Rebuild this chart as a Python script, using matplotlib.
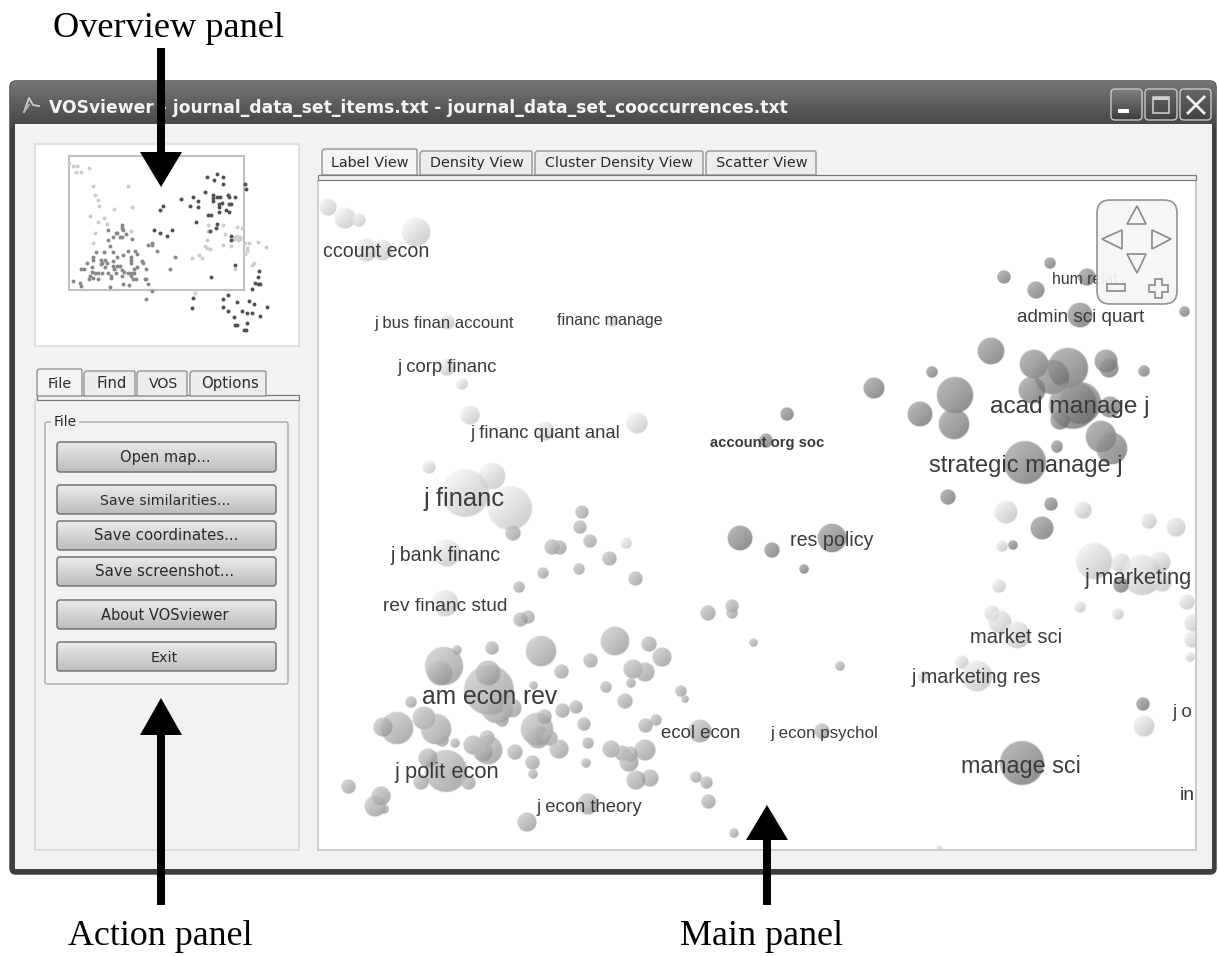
import numpy as np
import matplotlib
matplotlib.use('Agg')
import matplotlib.pyplot as plt
from matplotlib.patches import Rectangle, FancyBboxPatch, Polygon

# bubbles in the main panel, one list per cluster: (x, y, radius)
finance_bubbles = [(328, 207, 9), (345, 218, 11), (359, 220, 7), (416, 232, 15), (366, 250, 12), (382, 250, 11),
                   (447, 322, 8), (612, 320, 7), (447, 367, 9), (462, 384, 6), (470, 415, 10), (545, 431, 10),
                   (637, 423, 11), (429, 467, 7), (492, 476, 14), (465, 493, 25), (510, 508, 23), (447, 553, 14),
                   (445, 603, 14), (626, 543, 6)]
econ_bubbles = [(513, 533, 8), (582, 512, 7), (580, 527, 7), (590, 541, 7), (552, 547, 8), (559, 548, 7.5),
                (609, 559, 7.5), (579, 569, 6), (543, 573, 6), (635, 579, 7.5), (519, 587, 6), (528, 617, 7),
                (520, 620, 7.5), (708, 613, 8), (732, 606, 7), (732, 613, 6), (753, 643, 4.5), (444, 666, 20),
                (440, 673, 13), (457, 650, 5), (492, 648, 7), (541, 651, 16), (561, 672, 7.5), (590, 661, 7.5),
                (615, 641, 15), (649, 644, 8), (662, 657, 10), (633, 669, 10), (645, 672, 10), (631, 683, 5),
                (606, 687, 6), (625, 701, 8), (681, 691, 6), (685, 699, 4), (489, 690, 26), (488, 673, 13),
                (497, 707, 17), (512, 708, 10), (533, 686, 4.5), (411, 702, 6), (502, 720, 7), (562, 711, 7.5),
                (576, 707, 7), (537, 729, 17), (544, 717, 7.5), (538, 737, 12), (550, 738, 8), (559, 749, 10),
                (584, 724, 7), (588, 743, 6), (586, 763, 5), (645, 726, 7.5), (656, 720, 6), (645, 750, 11),
                (611, 749, 9), (622, 753, 8), (630, 754, 8), (629, 762, 10), (650, 778, 9), (636, 780, 10),
                (696, 777, 6), (706, 783, 6.5), (708, 802, 7.5), (734, 833, 5), (700, 731, 12), (527, 822, 10),
                (588, 804, 11), (397, 728, 17), (383, 727, 10), (424, 718, 12), (436, 729, 16), (442, 740, 7),
                (455, 743, 5), (473, 745, 10), (487, 738, 8), (488, 750, 15), (483, 752, 10), (515, 752, 8),
                (532, 763, 7.5), (533, 774, 5), (446, 771, 22), (428, 758, 10), (421, 782, 8), (468, 783, 7.5),
                (348, 787, 7.5), (381, 796, 10), (375, 806, 11), (384, 809, 5), (840, 666, 5), (822, 731, 8)]
manage_bubbles = [(787, 414, 7), (766, 441, 7), (874, 388, 11), (832, 538, 15), (772, 550, 8), (740, 538, 13),
                  (804, 569, 5), (1004, 277, 7), (1050, 263, 6), (1036, 290, 9), (1087, 277, 9), (1080, 315, 13),
                  (1184, 312, 5.5), (991, 351, 14), (1034, 364, 15), (1068, 368, 21), (1052, 377, 18),
                  (1106, 361, 12), (1109, 368, 10), (1144, 371, 6), (932, 372, 6), (955, 395, 19), (920, 414, 13),
                  (954, 424, 16), (1032, 390, 14), (1073, 405, 25), (1080, 403, 22), (1060, 420, 10),
                  (1110, 407, 11), (1101, 437, 16), (1112, 449, 16), (1057, 447, 6), (1025, 463, 22), (948, 497, 8),
                  (1051, 504, 7), (1042, 528, 12), (1013, 545, 5), (1121, 585, 8), (1143, 704, 7), (1022, 763, 23)]
marketing_bubbles = [(1006, 512, 12), (1083, 510, 9), (1149, 521, 8), (1176, 527, 10), (1002, 546, 6),
                     (1094, 561, 19), (1121, 563, 10), (1142, 575, 21), (1160, 562, 11), (1162, 582, 10),
                     (999, 586, 7), (1080, 607, 6), (1118, 614, 6), (1187, 602, 8), (992, 613, 8), (1000, 622, 12),
                     (1017, 635, 14), (962, 662, 7), (977, 676, 16), (923, 676, 6), (1193, 623, 9), (1192, 640, 8),
                     (1190, 657, 5), (1144, 726, 11), (939, 849, 4)]

# journal labels: text, left edge, right edge, baseline
map_labels = [('ccount econ', 323, 429, 257), ('j bus finan account', 374, 513, 328),
              ('financ manage', 557, 663, 325), ('j corp financ', 397, 497, 372),
              ('j financ quant anal', 470, 621, 438), ('j financ', 424, 505, 506),
              ('res policy', 790, 873, 546), ('j bank financ', 391, 501, 561), ('rev financ stud', 383, 508, 611),
              ('am econ rev', 422, 558, 704), ('ecol econ', 661, 741, 738), ('j econ psychol', 770, 877, 738),
              ('j polit econ', 394, 499, 778), ('j econ theory', 536, 642, 812), ('hum relat', 1052, 1118, 284),
              ('admin sci quart', 1017, 1146, 322), ('acad manage j', 990, 1151, 413),
              ('strategic manage j', 929, 1123, 472), ('j marketing', 1085, 1193, 584),
              ('market sci', 970, 1062, 643), ('j marketing res', 912, 1041, 683), ('j o', 1172, 1192, 717),
              ('manage sci', 961, 1081, 773), ('in', 1180, 1195, 800)]

# overview dots, already in overview panel pixels x 3 (offset 30, 140)
overview_dark = [(530, 110), (562, 101), (580, 110), (552, 119), (580, 133), (525, 155), (644, 133), (648, 146),
                 (489, 170), (453, 178), (503, 183), (480, 197), (503, 201), (548, 165), (548, 175), (548, 183),
                 (562, 170), (571, 170), (594, 165), (598, 170), (616, 170), (575, 188), (566, 192), (566, 201),
                 (598, 192), (603, 192), (589, 210), (598, 215), (566, 215), (535, 224), (544, 224), (398, 197),
                 (389, 210), (498, 246), (562, 251), (557, 265), (539, 274), (603, 287), (603, 301), (371, 269),
                 (389, 278), (426, 269), (412, 287), (616, 374), (544, 410), (688, 392), (684, 410), (675, 428),
                 (684, 433), (690, 433), (666, 446), (593, 464), (489, 473), (485, 505), (580, 478), (580, 500),
                 (621, 487), (657, 482), (671, 491), (712, 500), (594, 514), (635, 514), (652, 519), (666, 519),
                 (689, 527), (612, 532), (616, 555), (621, 555), (652, 550), (643, 569), (648, 569)]
overview_mid = [(275, 255), (275, 265), (280, 270), (235, 269), (258, 278), (262, 278), (275, 292), (271, 292),
                (289, 283), (248, 292), (235, 301), (307, 296), (239, 319), (199, 337), (221, 337), (248, 337),
                (294, 333), (316, 333), (321, 342), (280, 346), (262, 351), (303, 351), (303, 360), (303, 369),
                (190, 351), (190, 360), (212, 360), (225, 360), (217, 369), (230, 369), (212, 373), (171, 369),
                (248, 364), (335, 364), (340, 369), (226, 382), (248, 378), (262, 378), (271, 378), (253, 387),
                (275, 391), (185, 382), (154, 387), (163, 387), (185, 396), (194, 400), (203, 400), (217, 400),
                (235, 400), (258, 400), (281, 396), (294, 400), (303, 400), (312, 400), (312, 387), (321, 382),
                (348, 387), (243, 409), (243, 414), (276, 409), (303, 409), (180, 409), (176, 418), (189, 414),
                (203, 418), (130, 423), (150, 430), (152, 437), (239, 441), (280, 432), (298, 436), (308, 418),
                (317, 418), (344, 418), (349, 418), (353, 432), (367, 452), (349, 478), (421, 387), (435, 351),
                (353, 314), (367, 310), (367, 315), (380, 333)]
overview_light = [(118, 70), (130, 78), (140, 78), (176, 83), (139, 97), (153, 97), (189, 137), (294, 137),
                  (194, 164), (203, 179), (207, 197), (253, 206), (307, 201), (180, 228), (221, 233), (203, 246),
                  (230, 251), (194, 278), (303, 273), (189, 310), (534, 256), (580, 256), (621, 260), (635, 265),
                  (534, 274), (585, 283), (621, 287), (630, 292), (612, 296), (630, 297), (625, 301), (616, 292),
                  (530, 301), (645, 310), (657, 310), (684, 305), (707, 320), (580, 314), (603, 319), (525, 319),
                  (530, 323), (539, 328), (652, 323), (652, 332), (644, 342), (485, 355), (507, 346), (516, 355),
                  (671, 369), (666, 374), (616, 387), (494, 460)]

window_title = 'VOSviewer - journal_data_set_items.txt - journal_data_set_cooccurrences.txt'
view_tabs = ['Label View', 'Density View', 'Cluster Density View', 'Scatter View']
action_tabs = ['File', 'Find', 'VOS', 'Options']
button_labels = ['Open map...', 'Save similarities...', 'Save coordinates...', 'Save screenshot...',
                 'About VOSviewer', 'Exit']

fig = plt.figure(figsize=(12.18, 9.56), dpi=100)
ax = fig.add_axes([0, 0, 1, 1])
ax.set_xlim(0, 1218)
ax.set_ylim(956, 0)
ax.axis('off')
ax.set_autoscale_on(False)
renderer = fig.canvas.get_renderer()


def rect(x0, y0, x1, y1, fc='none', ec='none', lw=1, z=2, **kw):
    p = Rectangle((x0, y0), x1 - x0, y1 - y0, fc=fc, ec=ec, lw=lw, zorder=z, **kw)
    ax.add_patch(p)
    return p


def round_box(x0, y0, x1, y1, pad, fc='none', ec='none', lw=1, z=2, **kw):
    p = FancyBboxPatch((x0 + pad, y0 + pad), x1 - x0 - 2 * pad, y1 - y0 - 2 * pad,
                       boxstyle='round,pad=%g,rounding_size=%g' % (pad, pad),
                       fc=fc, ec=ec, lw=lw, zorder=z, **kw)
    ax.add_patch(p)
    return p


def gradient(x0, y0, x1, y1, top, bottom, z=2, clip=None):
    g = np.linspace(top, bottom, 32).reshape(-1, 1)
    im = ax.imshow(g, extent=(x0, x1, y1, y0), cmap='gray', vmin=0, vmax=1, aspect='auto',
                   interpolation='bilinear', zorder=z)
    if clip is not None:
        im.set_clip_path(clip)
    return im


def fit_text(s, x0, x1, y, family='Liberation Sans', color='#3a3a3a', z=6, **kw):
    # font size chosen so the string spans x0..x1 in pixels
    t = ax.text(x0, y, s, family=family, color=color, fontsize=12, va='baseline', ha='left', zorder=z, **kw)
    w = t.get_window_extent(renderer).width
    t.set_fontsize(12 * (x1 - x0) / w)
    return t


def sphere(tone):
    n = 80
    u, v = np.meshgrid(np.linspace(-1, 1, n), np.linspace(-1, 1, n))
    d = np.sqrt(u ** 2 + v ** 2)
    g = tone + 0.075 * (-(u + v) / 1.4)
    # drawn see through so that overlaps come out darker
    a = 0.72
    g = np.clip((g - (1 - a)) / a, 0, 1)
    mask = np.clip((1 - d) * n / 5.0, 0, 1) * a
    return np.dstack([g, g, g, mask])


def draw_bubbles(bubbles, tone, clip):
    img = sphere(tone)
    for x, y, r in bubbles:
        im = ax.imshow(img, extent=(x - r, x + r, y + r, y - r), aspect='auto', zorder=4,
                       interpolation='antialiased')
        im.set_clip_path(clip)


def tab(x0, x1, y0, y1, label, tx0, tx1, base, active=False):
    fc = '#f4f4f4' if active else '#ededed'
    pts = [(x0, y1), (x0, y0 + 2), (x0 + 2, y0), (x1 - 1, y0), (x1, y0 + 1), (x1, y1)]
    ax.add_patch(Polygon(pts, closed=True, fc=fc, ec='#8a8a8a', lw=0.9, zorder=3))
    fit_text(label, tx0, tx1, base, family='DejaVu Sans', color='#2a2a2a')


# window frame and title bar
round_box(10, 81, 1216, 874, 6, fc='#404040', ec='#3a3a3a', lw=1, z=1)
title_clip = round_box(10, 81, 1216, 130, 6, fc='#555555', z=1.5)
gradient(10, 81, 1216, 130, 0.46, 0.26, z=1.6, clip=title_clip)
rect(15, 124, 1212, 869, fc='#f2f2f2', z=2)
fit_text(window_title, 49, 785, 113, family='DejaVu Sans', color='#f4f4f4', z=3, fontweight='bold')

# little program icon
ax.plot([24, 29, 33, 39], [112, 98, 105, 106], color='#cfcfcf', lw=1.3, zorder=3)
ax.plot([29, 24], [105, 112], color='#b0b0b0', lw=1.3, zorder=3)

# minimize, maximize, close
for bx0, bx1, top, bottom in [(1111, 1142, 0.50, 0.24), (1145, 1177, 0.40, 0.26), (1180, 1211, 0.40, 0.26)]:
    c = round_box(bx0, 89, bx1, 120, 4, fc='#555555', z=3)
    gradient(bx0, 89, bx1, 120, top, bottom, z=3.1, clip=c)
    round_box(bx0, 89, bx1, 120, 4, ec='#c8c8c8', lw=1.0, z=3.2)
rect(1118, 109, 1129, 113, fc='white', z=3.5)
rect(1153, 97, 1169, 113, ec='#c8c8c8', lw=1.2, z=3.5)
rect(1153, 97, 1169, 100, fc='#d0d0d0', z=3.5)
ax.plot([1188, 1204], [97, 113], color='#f0f0f0', lw=2, zorder=3.5)
ax.plot([1188, 1204], [113, 97], color='#f0f0f0', lw=2, zorder=3.5)

# overview panel
rect(35, 144, 299, 346, fc='white', ec='#e0e0e0', lw=1.6, z=3)
rect(69, 156, 244, 290, ec='#c0c0c0', lw=1.5, z=4)
for pts, col in [(overview_light, '#cccccc'), (overview_mid, '#888888'), (overview_dark, '#505050')]:
    arr = np.array(pts)
    ax.scatter(30 + arr[:, 0] / 3, 140 + arr[:, 1] / 3, s=8, c=col, marker='o', linewidths=0, zorder=4)

# action panel
rect(35, 400, 299, 850, fc='#f2f2f2', ec='#d8d8d8', lw=1.3, z=2.5)
rect(37, 395, 299, 400, fc='#f2f2f2', ec='#7a7a7a', lw=0.9, z=2.6)
tab_x = [(37, 82), (84, 135), (137, 187), (190, 266)]
tab_text = [(48, 72), (96, 126), (149, 178), (201, 258)]
for i, name in enumerate(action_tabs):
    tab(tab_x[i][0], tab_x[i][1], 369 if i == 0 else 371, 396, name, tab_text[i][0], tab_text[i][1], 388,
        active=i == 0)
round_box(45, 422, 288, 684, 2, ec='#a8a8a8', lw=1, z=3)
rect(51, 414, 79, 428, fc='#f2f2f2', z=3.1)
fit_text('File', 54, 77, 426, family='DejaVu Sans', color='#2a2a2a')

button_y = [(442, 472), (485, 514), (521, 550), (557, 586), (600, 629), (642, 671)]
button_text = [(120, 210), (100, 229), (94, 237), (95, 234), (101, 228), (151, 178)]
for i, name in enumerate(button_labels):
    y0, y1 = button_y[i]
    c = round_box(57, y0, 276, y1, 3, fc='#cccccc', z=3)
    gradient(57, y0, 276, y1, 0.92, 0.74, z=3.1, clip=c)
    round_box(57, y0, 276, y1, 3, ec='#6a6a6a', lw=1, z=3.2)
    fit_text(name, button_text[i][0], button_text[i][1], (y0 + y1) / 2 + 5, family='DejaVu Sans', color='#2a2a2a')

# main panel
view_x = [(322, 417), (420, 532), (535, 703), (706, 816)]
view_text = [(331, 408), (430, 523), (545, 693), (716, 807)]
for i, name in enumerate(view_tabs):
    tab(view_x[i][0], view_x[i][1], 149 if i == 0 else 151, 175, name, view_text[i][0], view_text[i][1], 167,
        active=i == 0)
rect(318, 175, 1196, 180, fc='#f2f2f2', ec='#7a7a7a', lw=0.9, z=3.2)
main_clip = rect(318, 180, 1196, 850, fc='white', ec='#c8c8c8', lw=1.3, z=3)

draw_bubbles(finance_bubbles, 0.89, main_clip)
draw_bubbles(marketing_bubbles, 0.88, main_clip)
draw_bubbles(econ_bubbles, 0.76, main_clip)
draw_bubbles(manage_bubbles, 0.64, main_clip)

for name, x0, x1, base in map_labels:
    t = fit_text(name, x0, x1, base)
    t.set_clip_path(main_clip)
t = fit_text('account org soc', 710, 824, 447, fontweight='bold')
t.set_clip_path(main_clip)

# navigation control sits over the map and partly hides it
round_box(1097, 200, 1177, 304, 13, fc='#f6f6f6', ec='#8a8a8a', lw=1.2, z=7, alpha=0.93)
nav_ec = '#8a8a8a'
for tri in [[(1127, 224), (1146, 224), (1137, 206)], [(1102, 239), (1122, 230), (1122, 249)],
            [(1152, 230), (1171, 239), (1152, 249)], [(1127, 254), (1146, 254), (1137, 273)]]:
    ax.add_patch(Polygon(tri, closed=True, fc='none', ec=nav_ec, lw=1.2, zorder=8))
rect(1107, 284, 1125, 291, ec=nav_ec, lw=1.2, z=8)
plus = [(1155, 279), (1162, 279), (1162, 285), (1168, 285), (1168, 292), (1162, 292), (1162, 298),
        (1155, 298), (1155, 292), (1149, 292), (1149, 285), (1155, 285)]
ax.add_patch(Polygon(plus, closed=True, fc='none', ec=nav_ec, lw=1.2, zorder=8))

# arrows and captions around the screenshot
arrows = [(161, 48, 152, 187), (161, 905, 735, 698), (767, 905, 840, 805)]
for x, tail, base, tip in arrows:
    rect(x - 4, min(tail, base), x + 4, max(tail, base), fc='black', z=9)
    ax.add_patch(Polygon([(x - 21, base), (x + 21, base), (x, tip)], closed=True, fc='black', ec='none', zorder=9))

fit_text('Overview panel', 53, 283, 37, family='Liberation Serif', color='black', z=10)
fit_text('Action panel', 68, 252, 945, family='Liberation Serif', color='black', z=10)
fit_text('Main panel', 680, 843, 945, family='Liberation Serif', color='black', z=10)

ax.set_xlim(0, 1218)
ax.set_ylim(956, 0)
fig.savefig('out.png', dpi=100, facecolor='white')
